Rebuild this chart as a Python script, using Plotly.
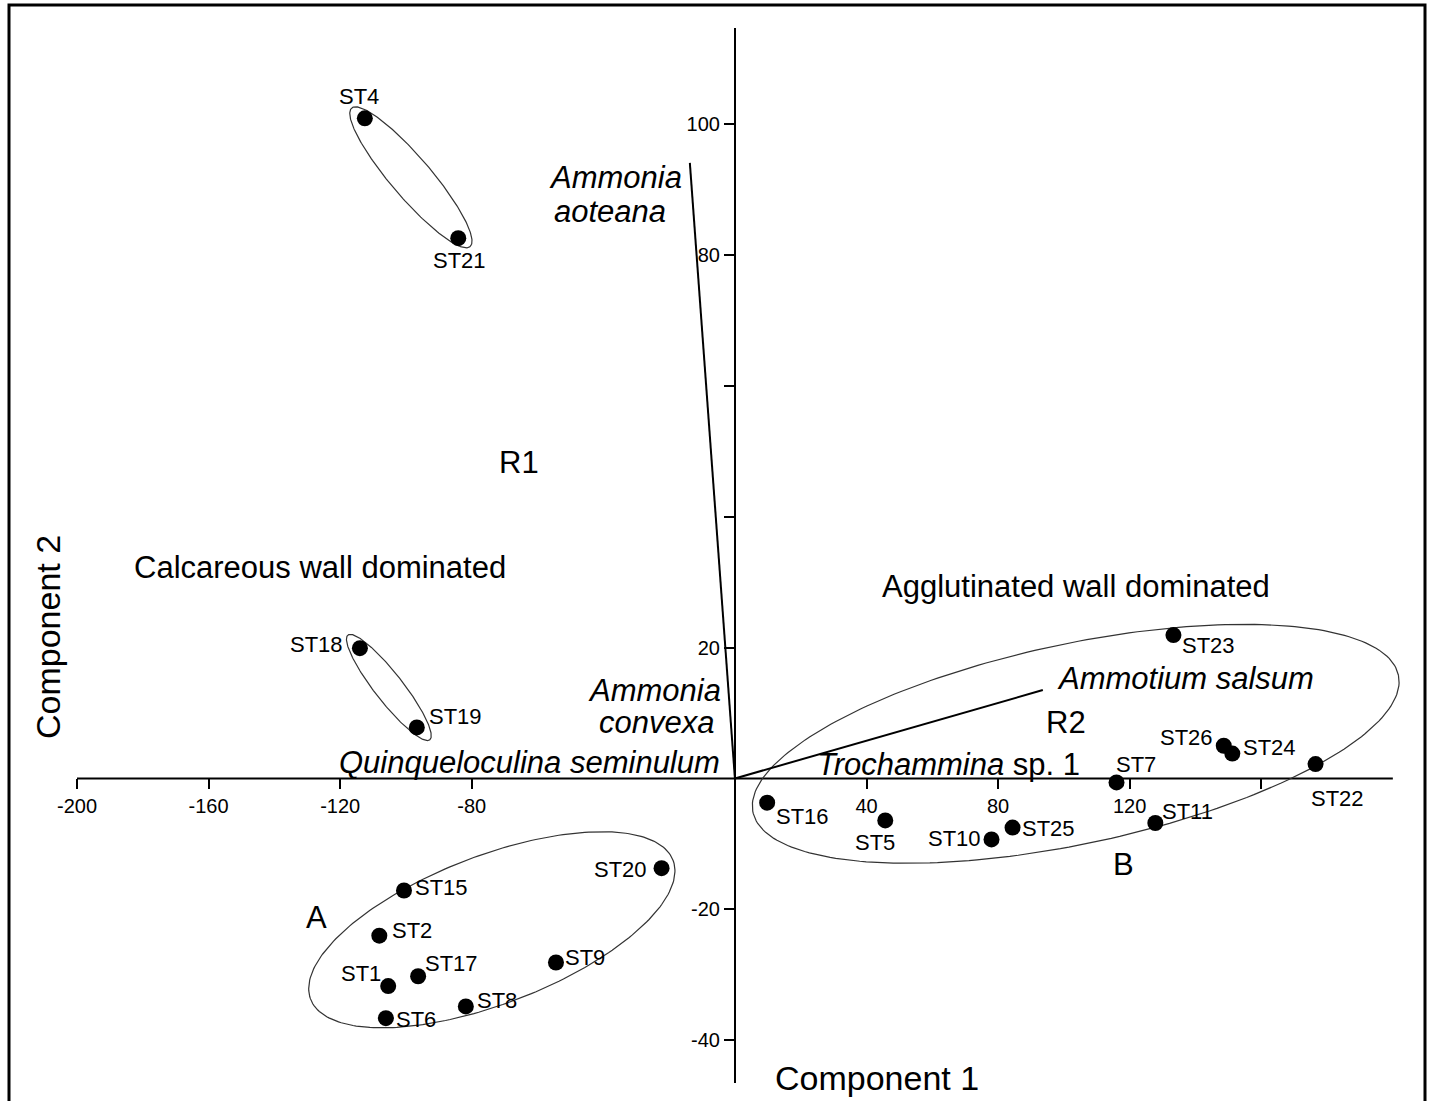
import numpy as np
import plotly.graph_objects as go

# ---------------- data ----------------
stations = ["ST4", "ST21", "ST18", "ST19", "ST20", "ST15", "ST2", "ST17", "ST1", "ST6",
            "ST8", "ST9", "ST23", "ST16", "ST5", "ST10", "ST25", "ST7", "ST11", "ST26",
            "ST24", "ST22"]
comp1 = [-112.5, -84.1, -114.0, -96.7, -22.3, -100.6, -108.1, -96.3, -105.4, -106.1,
         -81.8, -54.4, 133.3, 9.8, 45.7, 78.0, 84.4, 116.0, 127.8, 148.6,
         151.2, 176.5]
comp2 = [100.8, 82.5, 19.9, 7.8, -13.7, -17.1, -24.0, -30.2, -31.7, -36.6,
         -34.8, -28.1, 21.9, -3.7, -6.4, -9.3, -7.5, -0.6, -6.8, 5.0,
         3.8, 2.2]

species = ["Ammonia aoteana", "Ammotium salsum"]
load1 = [-13.7, 93.6]
load2 = [94.0, 13.5]

x_tickvals = [-200, -160, -120, -80, 40, 80, 120, 160]
x_ticktext = ["-200", "-160", "-120", "-80", "40", "80", "120", ""]
y_tickvals = [100, 80, 60, 40, 20, -20, -40]
y_ticktext = ["100", "80", "", "", "20", "-20", "-40"]

x_axis_extent = [-200, 200]     # drawn length of component-1 axis
xview = [-200, 204]             # visible range (room for ellipse B)
yrange_ = [-46.5, 114.6]

# label offsets (pixels) for station labels
label_dx = [-6, 1, -43, 39, -41, 38, 33, 33, -27, 30, 31, 29, 35, 35, -10, -37, 36, 19, 32, -37, 37, 22]
label_dy = [22, -22, 4, 11, -1, 3, 5, 13, 13, -1, 6, 5, -10, -14, -22, 1, -1, 18, 12, 8, 6, -34]

FONT = "Liberation Sans, Arial, sans-serif"
W, H = 1432, 1101
PX_X = 1316 / 400.0
ML, MT, MB = 77, 28, 18
MR = int(round(W - ML - PX_X * (xview[1] - xview[0])))
pw = W - ML - MR
ph = H - MT - MB
px_x = pw / (xview[1] - xview[0])
px_y = ph / (yrange_[1] - yrange_[0])
k = px_y / px_x


def ellipse(cx, cy, a, b, ang_deg, n=240):
    t = np.linspace(0, 2 * np.pi, n)
    th = np.radians(ang_deg)
    ex = a * np.cos(t) * np.cos(th) - b * np.sin(t) * np.sin(th)
    ey = a * np.cos(t) * np.sin(th) + b * np.sin(t) * np.cos(th)
    return cx + ex, cy + ey / k


# group ellipses: center (data), semi-axes (x-units), angle (deg)
ellipses = [(-98.5, 91.8, 27.7, 6.1, -49.5),
            (-105.2, 13.9, 20.2, 4.3, -52.0),
            (-73.9, -23.1, 59.0, 22.5, 21.0),
            (103.6, 5.3, 100.3, 30.4, 12.0)]

fig = go.Figure()

# component-1 axis line
fig.add_trace(go.Scatter(x=x_axis_extent, y=[0, 0], mode="lines",
                         line=dict(color="black", width=2),
                         hoverinfo="skip", showlegend=False))

for cx, cy, a, b, ang in ellipses:
    ex, ey = ellipse(cx, cy, a, b, ang)
    fig.add_trace(go.Scatter(x=ex, y=ey, mode="lines",
                             line=dict(color="#333333", width=1.2),
                             hoverinfo="skip", showlegend=False))

for sx, sy in zip(load1, load2):
    fig.add_trace(go.Scatter(x=[0, sx], y=[0, sy], mode="lines",
                             line=dict(color="black", width=2),
                             hoverinfo="skip", showlegend=False))

fig.add_trace(go.Scatter(x=comp1, y=comp2, mode="markers",
                         marker=dict(color="black", size=16),
                         text=stations, showlegend=False, cliponaxis=False))

annotations = []
for name, x, y, dx, dy in zip(stations, comp1, comp2, label_dx, label_dy):
    annotations.append(dict(x=x, y=y, text=name, showarrow=False, xshift=dx, yshift=dy,
                            xanchor="center", yanchor="middle",
                            font=dict(family=FONT, size=22, color="black")))

texts = [
    ("<i>Ammonia</i>", -36.2, 91.7, 31, 0),
    ("<i>aoteana</i>", -38.0, 86.6, 31, 0),
    ("<i>Ammonia</i>", -24.6, 13.5, 31, 0),
    ("<i>convexa</i>", -23.7, 8.6, 31, 0),
    ("<i>Quinqueloculina seminulum</i>", -62.3, 2.4, 31, 0),
    ("<i>Ammotium salsum</i>", 137.1, 15.3, 31, 0),
    ("<i>Trochammina</i> sp. 1", 65.0, 2.2, 31, 0),
    ("R1", -65.7, 48.2, 31, 0),
    ("R2", 100.6, 8.6, 31, 0),
    ("A", -127.1, -21.3, 31, 0),
    ("B", 118.2, -13.1, 31, 0),
    ("Calcareous wall dominated", -126.1, 32.2, 31, 0),
    ("Agglutinated wall dominated", 103.6, 29.3, 31, 0),
    ("Component 1", 43.2, -45.7, 34, 0),
]
for t, x, y, s, rot in texts:
    annotations.append(dict(x=x, y=y, text=t, showarrow=False, textangle=rot,
                            xanchor="center", yanchor="middle",
                            font=dict(family=FONT, size=s, color="black")))

annotations.append(dict(xref="paper", yref="y", x=(48 - ML) / pw, y=21.6,
                        text="Component 2", showarrow=False, textangle=-90,
                        xanchor="center", yanchor="middle",
                        font=dict(family=FONT, size=34, color="black")))

shapes = [dict(type="rect", xref="paper", yref="paper",
               x0=(9 - ML) / pw, x1=(1425 - ML) / pw,
               y0=(ph + MT - 1115) / ph, y1=(ph + MT - 5) / ph,
               line=dict(color="black", width=3), fillcolor="rgba(0,0,0,0)")]

fig.update_layout(
    width=W, height=H,
    margin=dict(l=ML, r=MR, t=MT, b=MB),
    paper_bgcolor="white", plot_bgcolor="white",
    showlegend=False,
    annotations=annotations,
    shapes=shapes,
    xaxis=dict(range=xview, anchor="free",
               position=-yrange_[0] / (yrange_[1] - yrange_[0]),
               showgrid=False, zeroline=False, showline=False,
               ticks="outside", ticklen=10, tickwidth=1.5, tickcolor="black",
               tickvals=x_tickvals, ticktext=x_ticktext,
               tickfont=dict(family=FONT, size=20, color="black"),
               automargin=False),
    yaxis=dict(range=yrange_, anchor="free",
               position=-xview[0] / (xview[1] - xview[0]),
               showgrid=False, zeroline=False, showline=True,
               linecolor="black", linewidth=2,
               ticks="outside", ticklen=10, tickwidth=1.5, tickcolor="black",
               tickvals=y_tickvals, ticktext=y_ticktext,
               tickfont=dict(family=FONT, size=20, color="black"),
               automargin=False),
)

fig.write_html("out.html", config={"displayModeBar": False},
               post_script="document.body.style.margin='0';document.body.style.overflow='hidden';")
